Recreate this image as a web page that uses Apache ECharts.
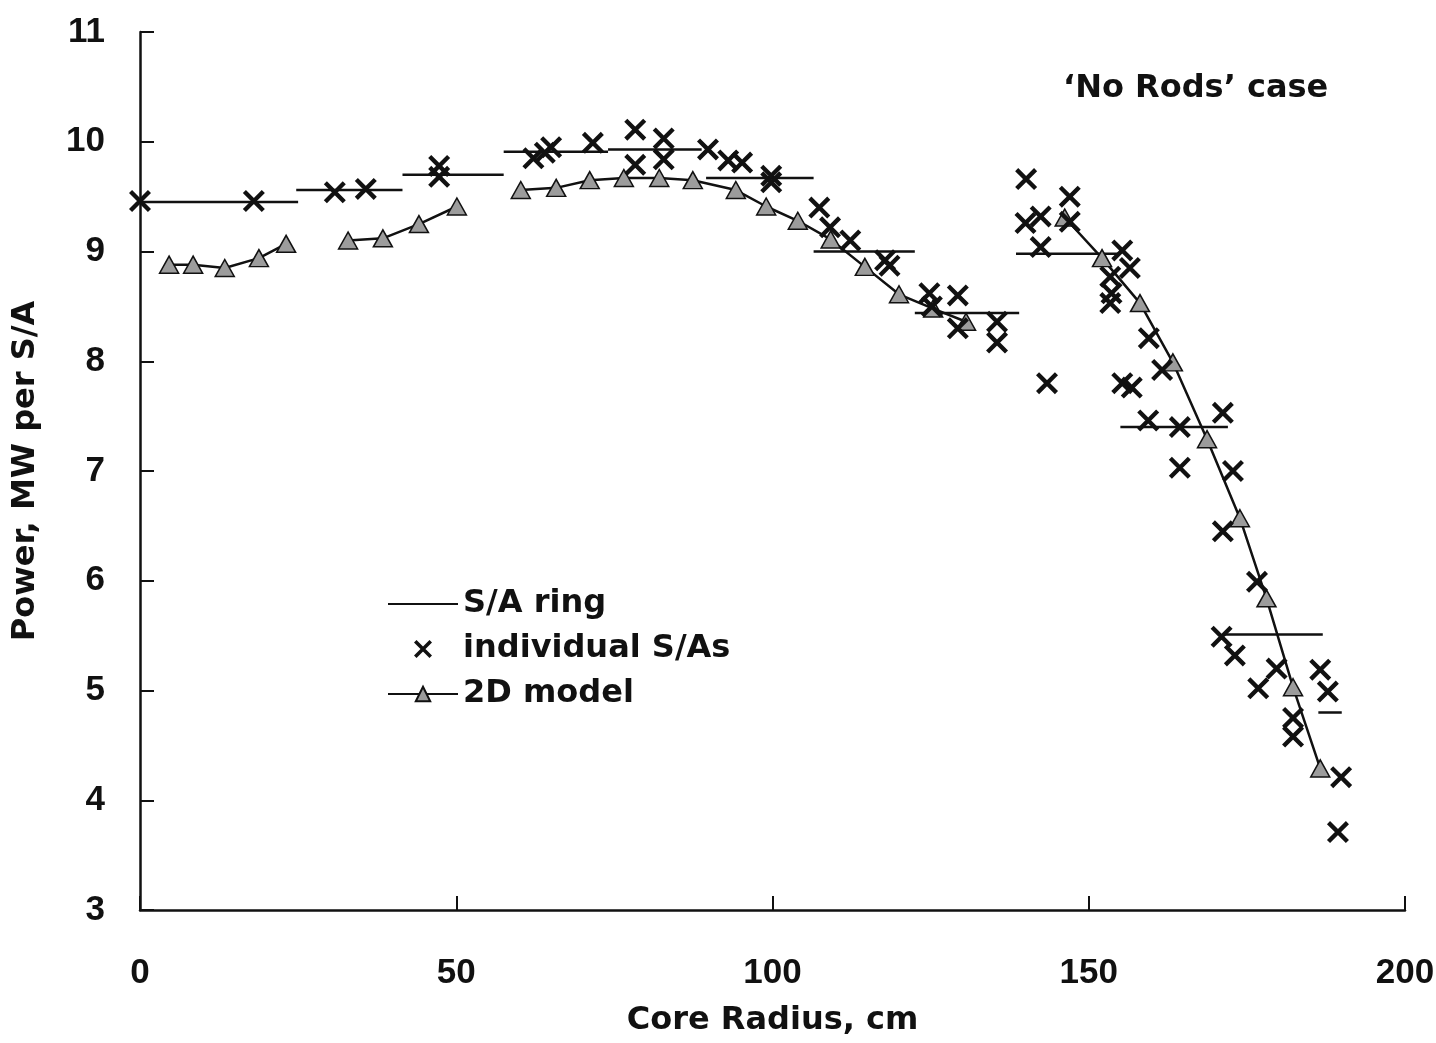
<!doctype html>
<html>
<head>
	<meta charset="utf-8">
	<title>No Rods case</title>
	<style>
		html, body { margin: 0; padding: 0; background: #fff; }
		#main { width: 1436px; height: 1043px; }
	</style>
</head>
<body>
<div id="main"></div>
<script src="https://cdn.jsdelivr.net/npm/echarts@6/dist/echarts.min.js"></script>
<script>
	// S/A ring averages: each ring is a flat segment from start to end radius
	var ringStart = [0, 24.7, 41.5, 57.5, 74, 89.5, 106.5, 122.5, 138.5, 155, 171.5, 186.3]
	var ringEnd   = [25, 41.5, 57.5, 74, 88.8, 106.5, 122.5, 139, 155, 172, 187, 190]
	var ringPower = [9.45, 9.56, 9.70, 9.91, 9.93, 9.67, 9.00, 8.44, 8.98, 7.40, 5.51, 4.80]

	// individual S/As
	var saRadius = [0, 18, 30.8, 35.7, 47.3, 47.3, 62.2, 64, 65, 71.6, 78.3, 78.3, 82.8, 82.8,
		89.8, 93, 95.2, 99.8, 99.8, 107.4, 109.1, 112.3, 117.8, 118.5, 124.8, 125.2, 129.3, 129.3,
		135.5, 135.5, 140.1, 140, 142.4, 142.4, 143.4, 147, 147, 155.3, 153.4, 156.5, 153.4, 153.6,
		155.3, 156.8, 159.5, 161.6, 159.4, 164.4, 171.2, 164.4, 172.8, 171.2, 176.6, 171, 173.1,
		179.7, 176.8, 186.6, 187.8, 182.3, 182.3, 189.9, 189.4]
	var saPower = [9.46, 9.46, 9.54, 9.57, 9.78, 9.68, 9.85, 9.90, 9.95, 9.99, 10.11, 9.79, 10.03, 9.84,
		9.93, 9.83, 9.81, 9.69, 9.63, 9.40, 9.22, 9.10, 8.92, 8.87, 8.62, 8.50, 8.60, 8.30,
		8.36, 8.17, 9.66, 9.26, 9.32, 9.04, 7.80, 9.50, 9.27, 9.01, 8.77, 8.85, 8.53, 8.62,
		7.80, 7.76, 8.21, 7.92, 7.46, 7.40, 7.53, 7.03, 7.00, 6.45, 5.99, 5.49, 5.32,
		5.20, 5.02, 5.19, 4.99, 4.75, 4.58, 4.21, 3.71]

	// 2D model, null marks a break in the curve
	var modelRadius = [4.6, 8.4, 13.4, 18.8, 23.1, null,
		32.9, 38.4, 44.1, 50.1, null,
		60.2, 65.8, 71.1, 76.5, 82.1, 87.4, 94.2, 99.0, 104, 109.2, 114.6, 120, 125.4, 130.6, null,
		146.2, 152.1, 158.1, 163.3, 168.7, 173.9, 178.1, 182.3, 186.6]
	var modelPower = [8.88, 8.88, 8.85, 8.94, 9.07, null,
		9.10, 9.12, 9.25, 9.41, null,
		9.56, 9.58, 9.65, 9.67, 9.67, 9.65, 9.56, 9.41, 9.28, 9.11, 8.86, 8.61, 8.48, 8.36, null,
		9.31, 8.94, 8.53, 7.99, 7.29, 6.57, 5.84, 5.03, 4.29]

	var xTicks = [0, 50, 100, 150, 200]
	var yTicks = [3, 4, 5, 6, 7, 8, 9, 10, 11]

	var ringData = []
	for (var i = 0; i < ringPower.length; i++) {
		ringData.push([ringStart[i], ringPower[i]])
		ringData.push([ringEnd[i], ringPower[i]])
		ringData.push([null, null])
	}
	var saData = saRadius.map(function (r, i) { return [r, saPower[i]] })
	var modelData = modelRadius.map(function (r, i) { return [r, modelPower[i]] })

	var ink = '#111'
	var textFont = 'DejaVu Sans'
	var tickFont = 'Liberation Sans'
	var crossPath = 'path://M0,1.4L1.4,0L10,8.6L8.6,10ZM10,1.4L1.4,10L0,8.6L8.6,0Z'

	var myChart = echarts.init(document.getElementById('main'))
	var option = {
		backgroundColor: '#fff',
		animation: false,
		title: {
			text: '\u2018No Rods\u2019 case',
			left: 1058,
			top: 68,
			textStyle: { fontFamily: textFont, fontWeight: 'bold', fontSize: 32, color: ink }
		},
		legend: {
			orient: 'vertical',
			left: 387,
			top: 588,
			padding: 0,
			itemWidth: 70,
			itemHeight: 18,
			itemGap: 13,
			data: [
				{ name: 'S/A ring', itemStyle: { opacity: 0 } },
				{ name: 'individual S/As' },
				{ name: '2D model' }
			],
			textStyle: { fontFamily: textFont, fontWeight: 'bold', fontSize: 32, color: ink }
		},
		grid: { left: 140, right: 31, top: 32, bottom: 133, outerBoundsMode: 'none' },
		xAxis: {
			type: 'value',
			min: xTicks[0],
			max: xTicks[xTicks.length - 1],
			interval: 50,
			name: 'Core Radius, cm',
			nameLocation: 'middle',
			nameGap: 95,
			nameTextStyle: { fontFamily: textFont, fontWeight: 'bold', fontSize: 32, color: ink },
			axisLine: { lineStyle: { color: ink, width: 2.5 } },
			axisTick: { inside: true, length: 14, lineStyle: { color: ink, width: 2 } },
			axisLabel: { margin: 46, fontFamily: tickFont, fontWeight: 'bold', fontSize: 35, color: ink },
			splitLine: { show: false }
		},
		yAxis: {
			type: 'value',
			min: yTicks[0],
			max: yTicks[yTicks.length - 1],
			interval: 1,
			name: 'Power, MW per S/A',
			nameLocation: 'middle',
			nameGap: 98,
			nameTextStyle: { fontFamily: textFont, fontWeight: 'bold', fontSize: 32, color: ink },
			axisLine: { lineStyle: { color: ink, width: 2.5 } },
			axisTick: { inside: true, length: 14, lineStyle: { color: ink, width: 2 } },
			axisLabel: { margin: 35, fontFamily: tickFont, fontWeight: 'bold', fontSize: 35, color: ink },
			splitLine: { show: false }
		},
		series: [
			{
				name: 'S/A ring',
				type: 'line',
				data: ringData,
				symbol: 'none',
				connectNulls: false,
				lineStyle: { color: ink, width: 2.5 },
				itemStyle: { color: ink },
				z: 2
			},
			{
				name: 'individual S/As',
				type: 'scatter',
				data: saData,
				symbol: crossPath,
				symbolSize: 22,
				itemStyle: { color: ink, opacity: 1 },
				z: 4
			},
			{
				name: '2D model',
				type: 'line',
				data: modelData,
				connectNulls: false,
				symbol: 'triangle',
				symbolSize: [19, 17],
				showAllSymbol: true,
				lineStyle: { color: ink, width: 2.5 },
				itemStyle: { color: '#9c9c9c', borderColor: ink, borderWidth: 1.5 },
				z: 3
			}
		]
	}
	myChart.setOption(option)
</script>
</body>
</html>
